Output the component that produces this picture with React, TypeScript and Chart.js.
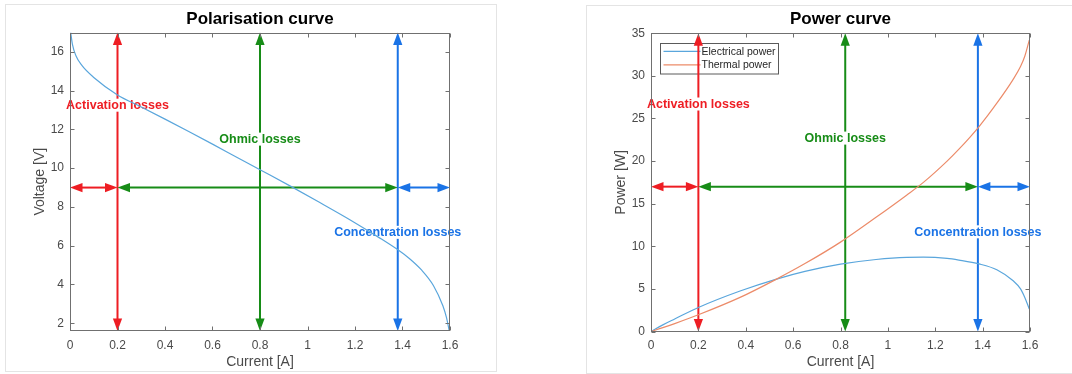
import { useEffect, useRef } from 'react';
import { Chart, registerables } from 'chart.js';

Chart.register(...registerables);

const FONT = "'Liberation Sans', Arial, Helvetica, sans-serif";

// ---------- data ----------
const polCurrent = [0.003, 0.01, 0.025, 0.05, 0.1, 0.2, 0.3, 0.4, 0.5, 0.6, 0.7, 0.8, 0.93, 1.05, 1.18, 1.3, 1.385, 1.43, 1.48, 1.53, 1.57, 1.585, 1.597];
const polVoltage = [17.0, 16.4, 15.8, 15.3, 14.68, 13.78, 13.16, 12.53, 11.89, 11.24, 10.58, 9.92, 9.06, 8.24, 7.33, 6.43, 5.75, 5.33, 4.75, 3.95, 2.9, 2.3, 1.6];

const powCurrent = [0, 0.05, 0.1, 0.2, 0.376, 0.53, 0.65, 0.8, 0.95, 1.079, 1.15, 1.25, 1.3, 1.385, 1.46, 1.529, 1.56, 1.578, 1.597];
const electricalPower = [0, 0.78, 1.47, 2.82, 4.75, 6.15, 7.05, 7.9, 8.45, 8.7, 8.72, 8.58, 8.38, 7.93, 7.25, 5.95, 5.0, 4.0, 2.64];
const thermalPower = [0, 0.45, 0.93, 1.96, 4.0, 6.15, 7.97, 10.49, 13.4, 16.0, 17.5, 20.0, 21.4, 24.06, 26.8, 29.6, 31.1, 32.3, 34.2];

const xTicks = [0, 0.2, 0.4, 0.6, 0.8, 1, 1.2, 1.4, 1.6];
const xTickLabels = ['0', '0.2', '0.4', '0.6', '0.8', '1', '1.2', '1.4', '1.6'];
const voltTicks = [2, 4, 6, 8, 10, 12, 14, 16];
const voltTickLabels = ['2', '4', '6', '8', '10', '12', '14', '16'];
const powTicks = [0, 5, 10, 15, 20, 25, 30, 35];
const powTickLabels = ['0', '5', '10', '15', '20', '25', '30', '35'];

const lossNames = ['Activation losses', 'Ohmic losses', 'Concentration losses'];
const lossColors = ['#ee1d23', '#178c17', '#1a73e6'];
// region boundaries on the current axis (start, activation|ohmic, ohmic|concentration, end)
const regionBounds = [0, 0.2, 1.38, 1.6];
const polMarkerCurrent = [0.2, 0.8, 1.38];
const polLevel = 9;
const polLabelVoltage = [13.25, 11.5, 6.69];
const powMarkerCurrent = [0.2, 0.82, 1.38];
const powLevel = 17;
const powLabelPower = [26.7, 22.7, 11.7];

const seriesNames = ['Electrical power', 'Thermal power'];
const seriesColors = ['#5aa6dc', '#ec8b69'];

const W = 536;
const H = 374;

type Area = { left: number; right: number; top: number; bottom: number };

function drawArrow(ctx: CanvasRenderingContext2D, x1: number, y1: number, x2: number, y2: number, color: string) {
  const head = 12.5;
  const half = 4.6;
  const dx = x2 - x1;
  const dy = y2 - y1;
  const len = Math.hypot(dx, dy);
  if (len < 1) return;
  const ux = dx / len;
  const uy = dy / len;
  const nx = -uy;
  const ny = ux;
  ctx.strokeStyle = color;
  ctx.fillStyle = color;
  ctx.lineWidth = 2;
  ctx.beginPath();
  ctx.moveTo(x1 + ux * head * 0.8, y1 + uy * head * 0.8);
  ctx.lineTo(x2 - ux * head * 0.8, y2 - uy * head * 0.8);
  ctx.stroke();
  ctx.beginPath();
  ctx.moveTo(x2, y2);
  ctx.lineTo(x2 - ux * head + nx * half, y2 - uy * head + ny * half);
  ctx.lineTo(x2 - ux * head - nx * half, y2 - uy * head - ny * half);
  ctx.closePath();
  ctx.fill();
  ctx.beginPath();
  ctx.moveTo(x1, y1);
  ctx.lineTo(x1 + ux * head + nx * half, y1 + uy * head + ny * half);
  ctx.lineTo(x1 + ux * head - nx * half, y1 + uy * head - ny * half);
  ctx.closePath();
  ctx.fill();
}

function makeOverlay(title: string, markers: number[], level: number, labelLevels: number[], ticksX: number[], ticksY: number[], withLegend: boolean) {
  return {
    id: 'overlay',
    beforeDatasetsDraw(chart: any) {
      const { ctx, chartArea: a } = chart;
      const xs = chart.scales.x;
      const ys = chart.scales.y;
      ctx.save();
      if (withLegend) {
        const bx = a.left + 8.5;
        const by = a.top + 9.5;
        const bw = 118;
        const bh = 30.5;
        ctx.fillStyle = '#ffffff';
        ctx.fillRect(bx, by, bw, bh);
        ctx.strokeStyle = '#5a5a5a';
        ctx.lineWidth = 1;
        ctx.strokeRect(Math.round(bx) + 0.5, Math.round(by) + 0.5, bw, bh);
        ctx.font = `10.5px ${FONT}`;
        ctx.textBaseline = 'middle';
        ctx.textAlign = 'left';
        seriesNames.forEach((name, i) => {
          const ly = by + 8.5 + i * 13.5;
          ctx.strokeStyle = seriesColors[i];
          ctx.lineWidth = 1.2;
          ctx.beginPath();
          ctx.moveTo(bx + 4, ly);
          ctx.lineTo(bx + 41, ly);
          ctx.stroke();
          ctx.fillStyle = '#262626';
          ctx.fillText(name, bx + 42, ly + 0.5);
        });
      }
      markers.forEach((m, i) => {
        const px = xs.getPixelForValue(m);
        drawArrow(ctx, px, a.bottom, px, a.top, lossColors[i]);
      });
      const py = ys.getPixelForValue(level);
      for (let i = 0; i < 3; i++) {
        drawArrow(ctx, xs.getPixelForValue(regionBounds[i]), py, xs.getPixelForValue(regionBounds[i + 1]), py, lossColors[i]);
      }
      ctx.font = `bold 12.5px ${FONT}`;
      ctx.textAlign = 'center';
      ctx.textBaseline = 'middle';
      lossNames.forEach((name, i) => {
        const tx = xs.getPixelForValue(markers[i]);
        const ty = ys.getPixelForValue(labelLevels[i]);
        const w = ctx.measureText(name).width;
        ctx.fillStyle = '#ffffff';
        ctx.fillRect(tx - w / 2 - 1, ty - 6.5, w + 2, 13);
        ctx.fillStyle = lossColors[i];
        ctx.fillText(name, tx, ty + 0.5);
      });
      ctx.restore();
    },
    afterDraw(chart: any) {
      const { ctx, chartArea: a } = chart;
      const xs = chart.scales.x;
      const ys = chart.scales.y;
      ctx.save();
      ctx.fillStyle = '#000000';
      ctx.font = `bold 17px ${FONT}`;
      ctx.textAlign = 'center';
      ctx.textBaseline = 'middle';
      ctx.fillText(title, (a.left + a.right) / 2, 19.5);
      ctx.strokeStyle = '#707070';
      ctx.lineWidth = 1;
      const L = Math.round(a.left) + 0.5;
      const R = Math.round(a.right) - 0.5;
      const T = Math.round(a.top) + 0.5;
      const B = Math.round(a.bottom) - 0.5;
      ctx.strokeRect(L, T, R - L, B - T);
      const tl = 4;
      ctx.beginPath();
      ticksX.forEach((v) => {
        const px = Math.round(xs.getPixelForValue(v)) + 0.5;
        ctx.moveTo(px, B);
        ctx.lineTo(px, B - tl);
        ctx.moveTo(px, T);
        ctx.lineTo(px, T + tl);
      });
      ticksY.forEach((v) => {
        const py = Math.round(ys.getPixelForValue(v)) + 0.5;
        ctx.moveTo(L, py);
        ctx.lineTo(L + tl, py);
        ctx.moveTo(R, py);
        ctx.lineTo(R - tl, py);
      });
      ctx.stroke();
      ctx.restore();
    },
  };
}

function buildConfig(opts: {
  area: Area;
  yTitle: string;
  yTitleCenter: number;
  yMin: number;
  yMax: number;
  yTicks: number[];
  yTickLabels: string[];
  datasets: any[];
  plugin: any;
}) {
  const { area } = opts;
  return {
    type: 'line' as const,
    data: { datasets: opts.datasets },
    plugins: [opts.plugin],
    options: {
      responsive: false,
      maintainAspectRatio: false,
      animation: false as const,
      devicePixelRatio: 1,
      events: [] as any[],
      layout: { padding: { left: 0, right: W - area.right, top: area.top, bottom: 0 } },
      plugins: {
        legend: { display: false },
        tooltip: { enabled: false },
        title: { display: false },
      },
      scales: {
        x: {
          type: 'linear' as const,
          min: 0,
          max: 1.6,
          afterBuildTicks: (s: any) => {
            s.ticks = xTicks.map((v) => ({ value: v }));
          },
          afterFit: (s: any) => {
            s.height = H - area.bottom;
          },
          grid: { display: false, drawTicks: false, tickLength: 0 },
          border: { display: false },
          ticks: {
            autoSkip: false,
            maxRotation: 0,
            padding: 7,
            color: '#4a4a4a',
            font: { family: FONT, size: 12 },
            callback: (v: any) => xTickLabels[xTicks.indexOf(Number(v))] ?? '',
          },
          title: {
            display: true,
            text: 'Current [A]',
            color: '#4a4a4a',
            font: { family: FONT, size: 14, lineHeight: 1.2 },
            padding: { top: 0, bottom: 3 },
          },
        },
        y: {
          type: 'linear' as const,
          min: opts.yMin,
          max: opts.yMax,
          afterBuildTicks: (s: any) => {
            s.ticks = opts.yTicks.map((v) => ({ value: v }));
          },
          afterFit: (s: any) => {
            s.width = area.left;
          },
          grid: { display: false, drawTicks: false, tickLength: 0 },
          border: { display: false },
          ticks: {
            autoSkip: false,
            padding: 6,
            color: '#4a4a4a',
            font: { family: FONT, size: 12 },
            callback: (v: any) => opts.yTickLabels[opts.yTicks.indexOf(Number(v))] ?? '',
          },
          title: {
            display: true,
            text: opts.yTitle,
            color: '#4a4a4a',
            font: { family: FONT, size: 14, lineHeight: 1.2 },
            padding: { top: opts.yTitleCenter - 8.4, bottom: 0 },
          },
        },
      },
    },
  };
}

function toPoints(xs: number[], ys: number[]) {
  return xs.map((x, i) => ({ x, y: ys[i] }));
}

function ChartCanvas({ config, left }: { config: any; left: number }) {
  const ref = useRef<HTMLCanvasElement | null>(null);
  useEffect(() => {
    if (!ref.current) return;
    const chart = new Chart(ref.current, config);
    return () => chart.destroy();
  }, [config]);
  return (
    <canvas
      ref={ref}
      width={W}
      height={H}
      style={{ position: 'absolute', left, top: 0, width: W, height: H }}
    />
  );
}

const lineStyle = {
  borderWidth: 1.2,
  pointRadius: 0,
  fill: false,
  cubicInterpolationMode: 'monotone',
};

const polConfig = buildConfig({
  area: { left: 70, right: 450, top: 32.5, bottom: 331 },
  yTitle: 'Voltage [V]',
  yTitleCenter: 40,
  yMin: 1.6,
  yMax: 17,
  yTicks: voltTicks,
  yTickLabels: voltTickLabels,
  datasets: [
    { label: 'Voltage', data: toPoints(polCurrent, polVoltage), borderColor: seriesColors[0], ...lineStyle },
  ],
  plugin: makeOverlay('Polarisation curve', polMarkerCurrent, polLevel, polLabelVoltage, xTicks, voltTicks, false),
});

const powConfig = buildConfig({
  area: { left: 115, right: 494, top: 33.3, bottom: 331.5 },
  yTitle: 'Power [W]',
  yTitleCenter: 85.3,
  yMin: 0,
  yMax: 35,
  yTicks: powTicks,
  yTickLabels: powTickLabels,
  datasets: [
    { label: seriesNames[1], data: toPoints(powCurrent, thermalPower), borderColor: seriesColors[1], ...lineStyle },
    { label: seriesNames[0], data: toPoints(powCurrent, electricalPower), borderColor: seriesColors[0], ...lineStyle },
  ],
  plugin: makeOverlay('Power curve', powMarkerCurrent, powLevel, powLabelPower, xTicks, powTicks, true),
});

export default function App() {
  return (
    <div
      style={{
        position: 'absolute',
        left: 0,
        top: 0,
        width: 1072,
        height: 374,
        overflow: 'hidden',
        background: '#ffffff',
      }}
    >
      <div
        style={{
          position: 'absolute',
          left: 5,
          top: 4,
          width: 492,
          height: 368,
          boxSizing: 'border-box',
          border: '1px solid #e4e4e4',
        }}
      />
      <div
        style={{
          position: 'absolute',
          left: 586,
          top: 5,
          width: 520,
          height: 369,
          boxSizing: 'border-box',
          border: '1px solid #e4e4e4',
        }}
      />
      <ChartCanvas config={polConfig} left={0} />
      <ChartCanvas config={powConfig} left={536} />
    </div>
  );
}
